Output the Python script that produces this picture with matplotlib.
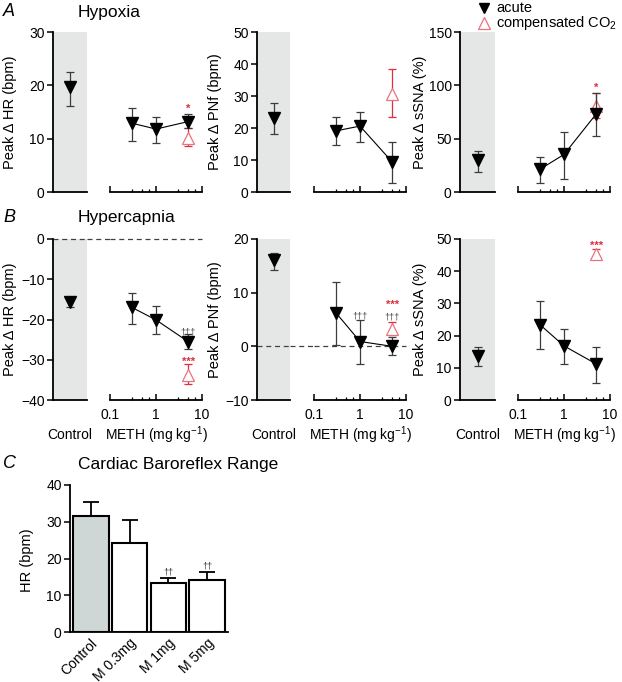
import matplotlib.pyplot as plt
from matplotlib.lines import Line2D
from matplotlib.transforms import blended_transform_factory

plt.rcParams['font.family'] = ['Liberation Sans', 'DejaVu Sans']
plt.rcParams['mathtext.fontset'] = 'custom'
plt.rcParams['mathtext.rm'] = 'Liberation Sans'
plt.rcParams['mathtext.it'] = 'Liberation Sans:italic'

W, H = 622, 682
doses = [0.3, 1, 5]

# control: mean, low, high ; acute: means, lows, highs ; comp: mean, low, high (at 5 mg/kg)
hypox_hr_ctrl = [19.6, 16.2, 22.5]
hypox_hr_acute = [12.9, 11.8, 13.2]
hypox_hr_acute_lo = [9.6, 9.1, 12.0]
hypox_hr_acute_hi = [15.8, 14.1, 14.6]
hypox_hr_comp = [10.2, 8.6, 12.0]

hypox_pnf_ctrl = [23.0, 18.0, 27.9]
hypox_pnf_acute = [19.1, 20.6, 9.4]
hypox_pnf_acute_lo = [14.6, 15.7, 2.9]
hypox_pnf_acute_hi = [23.5, 25.1, 15.5]
hypox_pnf_comp = [30.5, 23.3, 38.5]

hypox_ssna_ctrl = [29.8, 18.8, 38.6]
hypox_ssna_acute = [21.3, 35.2, 73.1]
hypox_ssna_acute_lo = [8.8, 11.9, 52.4]
hypox_ssna_acute_hi = [33.0, 56.5, 92.6]
hypox_ssna_comp = [80.7, 69.0, 93.2]

hcap_hr_ctrl = [-15.6, -17.0, -14.8]
hcap_hr_acute = [-17.0, -20.1, -25.5]
hcap_hr_acute_lo = [-21.2, -23.7, -27.4]
hcap_hr_acute_hi = [-13.3, -16.6, -23.7]
hcap_hr_comp = [-33.9, -36.1, -31.1]

hcap_pnf_ctrl = [16.1, 14.2, 17.3]
hcap_pnf_acute = [6.25, 0.9, 0.0]
hcap_pnf_acute_lo = [0.2, -3.25, -1.7]
hcap_pnf_acute_hi = [12.0, 4.9, 1.75]
hcap_pnf_comp = [3.25, 2.2, 4.6]

hcap_ssna_ctrl = [13.8, 10.6, 16.4]
hcap_ssna_acute = [23.4, 16.8, 11.2]
hcap_ssna_acute_lo = [15.8, 11.2, 5.4]
hcap_ssna_acute_hi = [30.7, 22.0, 16.4]
hcap_ssna_comp = [45.3, 43.7, 46.8]

# significance marks: (dose, y, text)
hypox_hr_marks = [(5, 15.6, '*')]
hypox_pnf_marks = []
hypox_ssna_marks = [(5, 98, '*')]
hcap_hr_marks = [(5, -23.0, '†††'), (5, -30.6, '***')]
hcap_pnf_marks = [(1, 5.7, '†††'), (5, 5.4, '†††'), (5, 7.7, '***')]
hcap_ssna_marks = [(5, 47.9, '***')]

baro_labels = ['Control', 'M 0.3mg', 'M 1mg', 'M 5mg']
baro_values = [31.5, 24.3, 13.2, 14.1]
baro_err = [4.0, 6.2, 1.4, 2.2]
baro_marks = ['', '', '††', '††']

RED = '#dd2f3c'
PINK = '#e8737c'
ERR = '#3c3c3c'
GRAY_BG = '#e5e7e7'
FS = 10

fig = plt.figure(figsize=(W / 100, H / 100), dpi=100)


def add_ax(x0, y0, x1, y1):
    return fig.add_axes([x0 / W, 1 - y1 / H, (x1 - x0) / W, (y1 - y0) / H])


def px(x, y):
    return x / W, 1 - y / H


ctrl_cols = [(53, 87), (257, 290), (460, 495)]
log_cols = [(110, 202), (314, 406), (518, 610)]
rows = [(32, 192), (239, 400)]


def panel(col, row, ctrl, acute, lo, hi, comp, marks, ylim, yticks, ylabel,
          zero_line=False, xlabels=False):
    y0, y1 = rows[row]
    cx0, cx1 = ctrl_cols[col]
    lx0, lx1 = log_cols[col]
    axc = add_ax(cx0, y0, cx1, y1)
    axl = add_ax(lx0, y0, lx1, y1)

    axc.set_facecolor(GRAY_BG)
    for s in ['top', 'right']:
        axc.spines[s].set_visible(False)
    axc.spines['left'].set_linewidth(1.3)
    axc.spines['bottom'].set_linewidth(1.3)
    axc.set_xlim(0, 1)
    axc.set_ylim(*ylim)
    axc.set_yticks(yticks)
    axc.set_xticks([])
    axc.tick_params(axis='y', direction='out', length=4, width=1.1, labelsize=FS, pad=2)

    axl.set_facecolor('none')
    for s in ['top', 'right', 'left']:
        axl.spines[s].set_visible(False)
    axl.spines['bottom'].set_linewidth(1.3)
    axl.set_xscale('log')
    axl.set_xlim(0.1, 10)
    axl.set_ylim(*ylim)
    axl.set_yticks([])
    axl.set_xticks([0.1, 1, 10])
    axl.set_xticks([0.3, 0.5, 0.7, 3, 5, 7], minor=True)
    axl.tick_params(axis='x', which='major', direction='in', length=4, width=1.1,
                    labelsize=FS, pad=6)
    axl.tick_params(axis='x', which='minor', direction='in', length=2.5, width=0.9)
    if xlabels:
        axl.set_xticklabels(['0.1', '1', '10'])
    else:
        axl.set_xticklabels([])
    axl.xaxis.set_minor_formatter(plt.NullFormatter())

    if zero_line:
        dash = dict(color='#404040', lw=0.9, ls=(0, (4, 3)))
        axc.axhline(0, zorder=2, clip_on=False, **dash)
        axl.axhline(0, zorder=1, clip_on=False, **dash)
        tr = blended_transform_factory(fig.transFigure, axc.transData)
        fig.add_artist(Line2D([cx1 / W, lx0 / W], [0, 0], transform=tr, **dash))

    # control
    m, l, h = ctrl
    axc.errorbar([0.5], [m], yerr=[[m - l], [h - m]], fmt='v', color='black',
                 ms=8, ecolor=ERR, elinewidth=0.9, capsize=3, capthick=0.9,
                 clip_on=False, zorder=3)
    # compensated
    m, l, h = comp
    axl.errorbar([5], [m], yerr=[[m - l], [h - m]], fmt='^', mfc='white', mec=PINK,
                 mew=0.9, ms=8.5, ecolor=RED, elinewidth=0.9, capsize=3,
                 capthick=0.9, clip_on=False, zorder=2)
    # acute
    yerr = [[a - b for a, b in zip(acute, lo)], [b - a for a, b in zip(acute, hi)]]
    axl.plot(doses, acute, color='black', lw=0.8, zorder=3, clip_on=False)
    axl.errorbar(doses, acute, yerr=yerr, fmt='v', color='black', ms=8,
                 ecolor=ERR, elinewidth=0.9, capsize=3, capthick=0.9,
                 clip_on=False, zorder=4)
    for d, y, t in marks:
        if t.startswith('*'):
            axl.text(d, y, t, color=RED, fontsize=8, ha='center', va='center',
                     fontweight='bold', zorder=5)
        else:
            axl.text(d, y, t, color='#444444', fontsize=6.5, ha='center',
                     va='center', zorder=5)

    lx = [10, 215, 420][col]
    fig.text(*px(lx, (y0 + y1) / 2), ylabel, rotation=90, ha='center',
             va='center', fontsize=FS + 0.5)
    if xlabels:
        fig.text(*px((cx0 + cx1) / 2, 435), 'Control', ha='center', va='center', fontsize=FS)
        fig.text(*px((lx0 + lx1) / 2, 435), 'METH (mg kg$^{-1}$)', ha='center',
                 va='center', fontsize=FS)


panel(0, 0, hypox_hr_ctrl, hypox_hr_acute, hypox_hr_acute_lo, hypox_hr_acute_hi,
      hypox_hr_comp, hypox_hr_marks, (0, 30), [0, 10, 20, 30], 'Peak Δ HR (bpm)')
panel(1, 0, hypox_pnf_ctrl, hypox_pnf_acute, hypox_pnf_acute_lo, hypox_pnf_acute_hi,
      hypox_pnf_comp, hypox_pnf_marks, (0, 50), [0, 10, 20, 30, 40, 50], 'Peak Δ PNf (bpm)')
panel(2, 0, hypox_ssna_ctrl, hypox_ssna_acute, hypox_ssna_acute_lo, hypox_ssna_acute_hi,
      hypox_ssna_comp, hypox_ssna_marks, (0, 150), [0, 50, 100, 150], 'Peak Δ sSNA (%)')
panel(0, 1, hcap_hr_ctrl, hcap_hr_acute, hcap_hr_acute_lo, hcap_hr_acute_hi,
      hcap_hr_comp, hcap_hr_marks, (-40, 0), [-40, -30, -20, -10, 0], 'Peak Δ HR (bpm)',
      zero_line=True, xlabels=True)
panel(1, 1, hcap_pnf_ctrl, hcap_pnf_acute, hcap_pnf_acute_lo, hcap_pnf_acute_hi,
      hcap_pnf_comp, hcap_pnf_marks, (-10, 20), [-10, 0, 10, 20], 'Peak Δ PNf (bpm)',
      zero_line=True, xlabels=True)
panel(2, 1, hcap_ssna_ctrl, hcap_ssna_acute, hcap_ssna_acute_lo, hcap_ssna_acute_hi,
      hcap_ssna_comp, hcap_ssna_marks, (0, 50), [0, 10, 20, 30, 40, 50], 'Peak Δ sSNA (%)',
      xlabels=True)

# panel C
axb = add_ax(70, 485, 228, 632)
pos = list(range(len(baro_values)))
axb.bar(pos, baro_values, width=0.92, color=['#cfd6d6', 'white', 'white', 'white'],
        edgecolor='black', linewidth=1.5, zorder=2)
axb.errorbar(pos, baro_values, yerr=[[0] * len(baro_err), baro_err], fmt='none',
             ecolor='black', elinewidth=1.3, capsize=6, capthick=1.3, zorder=3)
for p, v, e, t in zip(pos, baro_values, baro_err, baro_marks):
    if t:
        axb.text(p, v + e + 1.6, t, ha='center', va='center', fontsize=6.5, color='#333333')
axb.set_xlim(-0.53, 3.53)
axb.set_ylim(0, 40)
axb.set_yticks([0, 10, 20, 30, 40])
axb.set_xticks(pos)
axb.set_xticklabels(baro_labels, rotation=45, ha='right', rotation_mode='anchor', fontsize=FS)
axb.tick_params(axis='x', length=0, pad=3)
axb.tick_params(axis='y', direction='out', length=4, width=1.1, labelsize=FS, pad=2)
for s in ['top', 'right']:
    axb.spines[s].set_visible(False)
for s in ['left', 'bottom']:
    axb.spines[s].set_linewidth(1.3)
fig.text(*px(27, 560), 'HR (bpm)', rotation=90, ha='center', va='center', fontsize=FS + 0.5)

# panel letters and titles
fig.text(*px(3, 12), 'A', fontsize=13, fontstyle='italic', va='center')
fig.text(*px(3, 218), 'B', fontsize=13, fontstyle='italic', va='center')
fig.text(*px(3, 464), 'C', fontsize=13, fontstyle='italic', va='center')
fig.text(*px(78, 12), 'Hypoxia', fontsize=12.5, va='center')
fig.text(*px(78, 218), 'Hypercapnia', fontsize=12.5, va='center')
fig.text(*px(78, 464), 'Cardiac Baroreflex Range', fontsize=12.5, va='center')

# legend
fig.add_artist(Line2D([px(484, 8)[0]], [px(484, 8)[1]], marker='v', color='black',
                      ms=7.5, transform=fig.transFigure, ls='none'))
fig.add_artist(Line2D([px(484, 23)[0]], [px(484, 23)[1]], marker='^', mfc='white',
                      mec=PINK, mew=0.9, ms=8, transform=fig.transFigure, ls='none'))
fig.text(*px(496, 8), 'acute', fontsize=10.5, va='center')
fig.text(*px(496, 23), 'compensated CO$_2$', fontsize=10.5, va='center')

fig.savefig('out.png', dpi=100)
